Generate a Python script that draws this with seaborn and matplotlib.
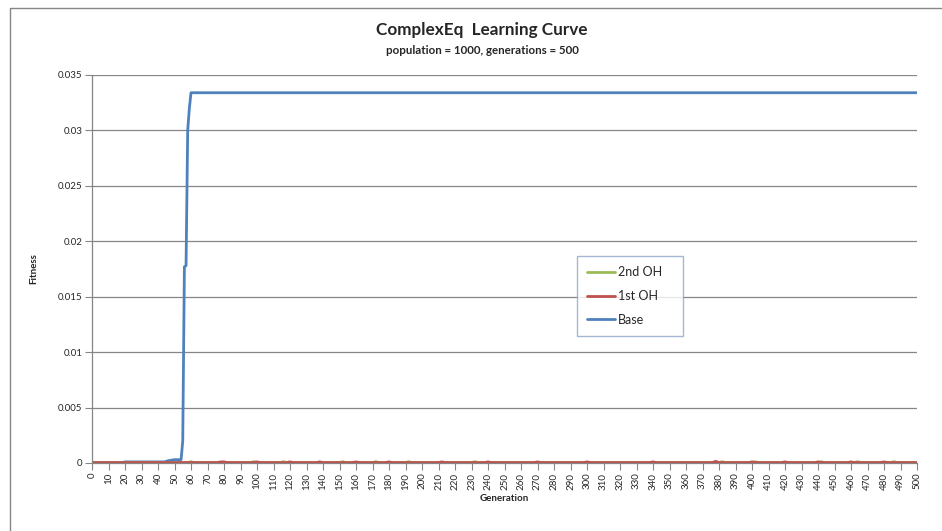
import numpy as np
import pandas as pd
import matplotlib
matplotlib.use("Agg")
import matplotlib.pyplot as plt
from matplotlib.lines import Line2D
import seaborn as sns

# values
base_gen = [0, 18, 20, 44, 46, 50, 52, 54, 55, 56, 57, 58, 59, 60, 500]
base_fit = [0.00003, 0.00003, 0.0001, 0.0001, 0.0002, 0.0003, 0.0003, 0.0003, 0.002, 0.0177, 0.0178, 0.0300, 0.0320, 0.0334, 0.0334]

oh1_gen = [0, 76, 78, 80, 82, 98, 100, 102, 118, 120, 122, 136, 138, 140, 158, 160, 162, 178, 180, 182,
           210, 212, 214, 238, 240, 242, 268, 270, 272, 298, 300, 302, 338, 340, 342, 376, 378, 380,
           398, 400, 402, 418, 420, 422, 438, 440, 442, 458, 460, 462, 478, 480, 482, 500]
oh1_fit = [0.00004, 0.00004, 0.0001, 0.0001, 0.00004, 0.00004, 0.0001, 0.00004, 0.00004, 0.0001, 0.00004,
           0.00004, 0.0001, 0.00004, 0.00004, 0.0001, 0.00004, 0.00004, 0.0001, 0.00004,
           0.00004, 0.0001, 0.00004, 0.00004, 0.0001, 0.00004, 0.00004, 0.0001, 0.00004, 0.00004, 0.0001, 0.00004,
           0.00004, 0.0001, 0.00004, 0.00004, 0.00015, 0.00004, 0.00004, 0.0001, 0.00004, 0.00004, 0.0001, 0.00004,
           0.00004, 0.0001, 0.00004, 0.00004, 0.0001, 0.00004, 0.00004, 0.0001, 0.00004, 0.00004]

oh2_gen = [0, 58, 60, 62, 96, 98, 100, 114, 116, 118, 150, 152, 154, 170, 172, 174, 190, 192, 194,
           230, 232, 234, 380, 382, 384, 400, 402, 404, 440, 442, 444, 462, 464, 466, 484, 486, 488, 500]
oh2_fit = [0.00003, 0.00003, 0.00012, 0.00003, 0.00003, 0.00012, 0.00003, 0.00003, 0.00012, 0.00003,
           0.00003, 0.00012, 0.00003, 0.00003, 0.00012, 0.00003, 0.00003, 0.00012, 0.00003,
           0.00003, 0.00012, 0.00003, 0.00003, 0.00012, 0.00003, 0.00003, 0.00012, 0.00003,
           0.00003, 0.00012, 0.00003, 0.00003, 0.00012, 0.00003, 0.00003, 0.00012, 0.00003, 0.00003]

x_ticks = list(range(0, 501, 10))
y_ticks = [0, 0.005, 0.01, 0.015, 0.02, 0.025, 0.03, 0.035]
y_labels = ["0", "0.005", "0.01", "0.015", "0.02", "0.025", "0.03", "0.035"]

blue, red, green = "#4F81BD", "#C0504D", "#9BBB59"
grey = "#868686"

sns.set_style("white")
plt.rcParams['font.family'] = ['Lato', 'DejaVu Sans']

fig = plt.figure(figsize=(9.42, 5.31), dpi=100)
ax = fig.add_axes([92/942, 1-463/531, 825/942, 388/531])

sns.lineplot(x=base_gen, y=base_fit, ax=ax, color=blue, lw=2.0, label="Base")
sns.lineplot(x=oh2_gen, y=oh2_fit, ax=ax, color=green, lw=2.0, label="2nd OH")
sns.lineplot(x=oh1_gen, y=oh1_fit, ax=ax, color=red, lw=2.0, label="1st OH")

ax.set_xlim(0, 500)
ax.set_ylim(0, 0.035)
ax.set_xticks(x_ticks)
ax.set_xticklabels([str(t) for t in x_ticks], rotation=90, fontsize=7)
ax.set_yticks(y_ticks)
ax.set_yticklabels(y_labels, fontsize=7)
ax.grid(axis='y', color=grey, lw=0.9)
ax.set_axisbelow(True)
ax.tick_params(axis='both', direction='out', length=5, width=0.8, color=grey, pad=2, left=True, bottom=True)
for s in ['top', 'right']:
    ax.spines[s].set_visible(False)
for s in ['left', 'bottom']:
    ax.spines[s].set_color(grey)
    ax.spines[s].set_linewidth(0.9)

ax.set_xlabel("Generation", fontsize=7, fontweight='bold', labelpad=3)
ax.set_ylabel("Fitness", fontsize=7, fontweight='bold', labelpad=14)

h, l = ax.get_legend_handles_labels()
order = [l.index("2nd OH"), l.index("1st OH"), l.index("Base")]
leg = ax.legend([h[i] for i in order], [l[i] for i in order], loc='upper left',
                bbox_to_anchor=(485/825, 207/388, 106/825, 0), mode='expand',
                borderaxespad=0, fontsize=9, frameon=True, fancybox=False, handlelength=2.2,
                handletextpad=0.3, labelspacing=0.95, borderpad=0.8)
leg.get_frame().set_edgecolor("#8EA7C8")
leg.get_frame().set_linewidth(1.0)

fig.text(482/942, 1-30/531, "ComplexEq  Learning Curve", ha='center', va='center',
         fontsize=12.3, fontweight='bold')
fig.text(482/942, 1-51/531, "population = 1000, generations = 500", ha='center', va='center',
         fontsize=8.3, fontweight='bold')

# chart area border (top and left visible)
fig.add_artist(Line2D([10/942, 10/942], [0, 1-8/531], color=grey, lw=1.0))
fig.add_artist(Line2D([10/942, 1], [1-8/531, 1-8/531], color=grey, lw=1.0))

fig.savefig("out.png", dpi=100)
